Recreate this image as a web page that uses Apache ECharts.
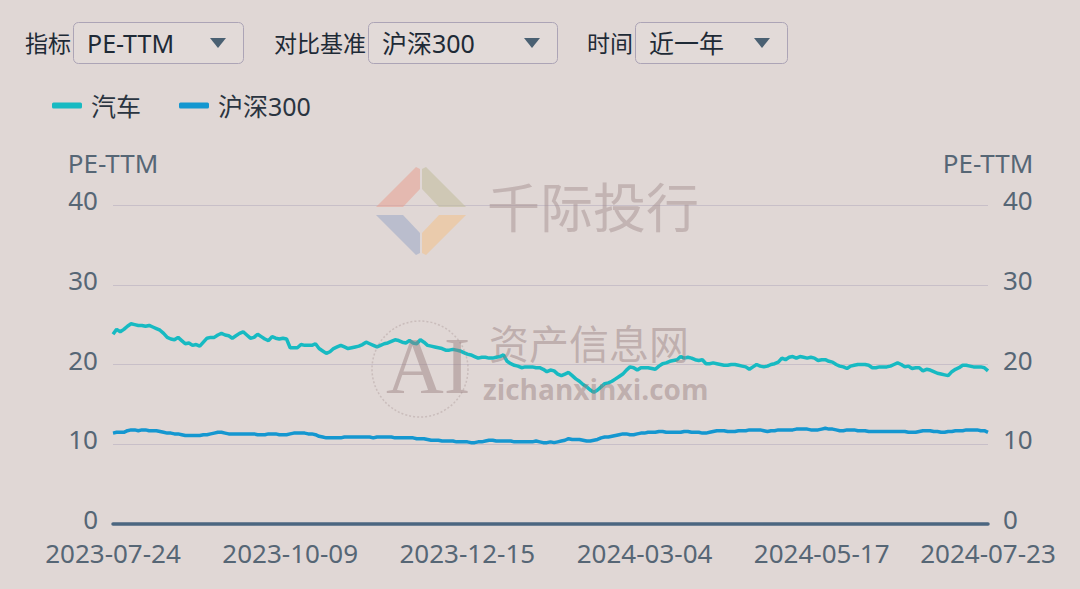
<!DOCTYPE html>
<html>
<head>
<meta charset="utf-8">
<script src="https://cdn.jsdelivr.net/npm/echarts@6/dist/echarts.min.js"></script>
<style>
html,body{margin:0;padding:0;background:#e0d7d5;}
#chart{width:1080px;height:589px;}
</style>
</head>
<body>
<div id="chart"></div>
<script>
var dates = [
"2023-07-24","2023-07-25","2023-07-26","2023-07-27","2023-07-28","2023-07-31",
"2023-08-01","2023-08-02","2023-08-03","2023-08-04","2023-08-07","2023-08-08","2023-08-09","2023-08-10","2023-08-11","2023-08-14","2023-08-15","2023-08-16","2023-08-17","2023-08-18","2023-08-21","2023-08-22","2023-08-23","2023-08-24","2023-08-25","2023-08-28","2023-08-29","2023-08-30","2023-08-31",
"2023-09-01","2023-09-04","2023-09-05","2023-09-06","2023-09-07","2023-09-08","2023-09-11","2023-09-12","2023-09-13","2023-09-14","2023-09-15","2023-09-18","2023-09-19","2023-09-20","2023-09-21","2023-09-22","2023-09-25","2023-09-26","2023-09-27","2023-09-28",
"2023-10-09","2023-10-10","2023-10-11","2023-10-12","2023-10-13","2023-10-16","2023-10-17","2023-10-18","2023-10-19","2023-10-20","2023-10-23","2023-10-24","2023-10-25","2023-10-26","2023-10-27","2023-10-30","2023-10-31",
"2023-11-01","2023-11-02","2023-11-03","2023-11-06","2023-11-07","2023-11-08","2023-11-09","2023-11-10","2023-11-13","2023-11-14","2023-11-15","2023-11-16","2023-11-17","2023-11-20","2023-11-21","2023-11-22","2023-11-23","2023-11-24","2023-11-27","2023-11-28","2023-11-29","2023-11-30",
"2023-12-01","2023-12-04","2023-12-05","2023-12-06","2023-12-07","2023-12-08","2023-12-11","2023-12-12","2023-12-13","2023-12-14","2023-12-15","2023-12-18","2023-12-19","2023-12-20","2023-12-21","2023-12-22","2023-12-25","2023-12-26","2023-12-27","2023-12-28","2023-12-29",
"2024-01-02","2024-01-03","2024-01-04","2024-01-05","2024-01-08","2024-01-09","2024-01-10","2024-01-11","2024-01-12","2024-01-15","2024-01-16","2024-01-17","2024-01-18","2024-01-19","2024-01-22","2024-01-23","2024-01-24","2024-01-25","2024-01-26","2024-01-29","2024-01-30","2024-01-31",
"2024-02-01","2024-02-02","2024-02-05","2024-02-06","2024-02-07","2024-02-08","2024-02-19","2024-02-20","2024-02-21","2024-02-22","2024-02-23","2024-02-26","2024-02-27","2024-02-28","2024-02-29",
"2024-03-01","2024-03-04","2024-03-05","2024-03-06","2024-03-07","2024-03-08","2024-03-11","2024-03-12","2024-03-13","2024-03-14","2024-03-15","2024-03-18","2024-03-19","2024-03-20","2024-03-21","2024-03-22","2024-03-25","2024-03-26","2024-03-27","2024-03-28","2024-03-29",
"2024-04-01","2024-04-02","2024-04-03","2024-04-08","2024-04-09","2024-04-10","2024-04-11","2024-04-12","2024-04-15","2024-04-16","2024-04-17","2024-04-18","2024-04-19","2024-04-22","2024-04-23","2024-04-24","2024-04-25","2024-04-26","2024-04-29","2024-04-30",
"2024-05-06","2024-05-07","2024-05-08","2024-05-09","2024-05-10","2024-05-13","2024-05-14","2024-05-15","2024-05-16","2024-05-17","2024-05-20","2024-05-21","2024-05-22","2024-05-23","2024-05-24","2024-05-27","2024-05-28","2024-05-29","2024-05-30","2024-05-31",
"2024-06-03","2024-06-04","2024-06-05","2024-06-06","2024-06-07","2024-06-11","2024-06-12","2024-06-13","2024-06-14","2024-06-17","2024-06-18","2024-06-19","2024-06-20","2024-06-21","2024-06-24","2024-06-25","2024-06-26","2024-06-27","2024-06-28",
"2024-07-01","2024-07-02","2024-07-03","2024-07-04","2024-07-05","2024-07-08","2024-07-09","2024-07-10","2024-07-11","2024-07-12","2024-07-15","2024-07-16","2024-07-17","2024-07-18","2024-07-19","2024-07-22","2024-07-23"
];

var autoPE = [
23.8,24.4,24.1,24.4,24.8,25.1,25.0,24.9,24.9,24.8,
24.9,24.7,24.5,24.3,23.9,23.4,23.2,23.1,23.4,23.0,
22.6,22.7,22.4,22.5,22.3,22.8,23.3,23.4,23.4,23.7,
23.9,23.7,23.6,23.3,23.6,23.9,24.1,23.7,23.3,23.4,
23.8,23.5,23.2,23.0,23.5,23.3,23.2,23.3,23.2,22.1,
22.1,22.1,22.5,22.4,22.4,22.4,22.6,22.0,21.7,21.4,
21.6,22.0,22.2,22.4,22.2,22.0,22.1,22.2,22.3,22.5,
22.8,22.6,22.4,22.2,22.4,22.6,22.7,22.9,23.1,23.0,
22.8,22.7,23.0,22.7,22.6,23.1,22.8,22.4,22.3,22.2,
22.1,22.0,21.8,21.8,21.9,21.8,21.7,21.5,21.3,21.2,
21.0,20.8,20.9,20.9,20.8,20.8,20.9,21.0,21.2,20.4,
20.1,19.9,19.8,19.6,19.7,19.7,19.7,19.6,19.6,19.4,
19.1,19.3,19.2,18.8,18.6,18.8,19.0,18.6,18.2,17.9,
17.5,17.2,16.8,16.5,16.8,17.2,17.6,17.7,17.9,18.2,
18.5,18.8,19.3,19.7,19.6,19.3,19.6,19.6,19.6,19.5,
19.4,19.8,20.1,20.2,20.4,20.5,20.6,21.0,20.8,20.9,
20.8,20.6,20.5,20.6,20.1,20.1,20.2,20.1,20.0,19.9,
19.9,20.0,20.0,19.9,19.8,19.7,19.4,19.7,20.0,19.8,
19.7,19.8,20.0,20.1,20.3,20.8,20.6,20.9,21.0,20.8,
21.0,20.9,20.8,20.9,20.8,20.5,20.6,20.6,20.4,20.3,
20.0,19.8,19.7,19.5,19.8,19.9,20.0,20.0,20.0,19.9,
19.6,19.6,19.7,19.7,19.7,19.8,20.0,20.2,20.0,19.7,
19.8,19.5,19.6,19.6,19.2,19.4,19.3,19.1,18.9,18.8,
18.7,18.6,19.1,19.4,19.6,19.9,19.9,19.8,19.7,19.7,
19.7,19.6,19.2
];

var hs300PE = [
11.4,11.5,11.5,11.5,11.7,11.8,11.8,11.7,11.8,11.8,
11.7,11.7,11.7,11.6,11.5,11.4,11.4,11.3,11.3,11.2,
11.1,11.1,11.1,11.1,11.1,11.2,11.2,11.3,11.4,11.5,
11.5,11.4,11.3,11.3,11.3,11.3,11.3,11.3,11.3,11.3,
11.2,11.2,11.2,11.3,11.3,11.3,11.2,11.2,11.2,11.3,
11.4,11.4,11.4,11.4,11.3,11.3,11.2,11.0,10.9,10.8,
10.8,10.8,10.8,10.8,10.9,10.9,10.9,10.9,10.9,10.9,
10.9,10.9,10.8,10.9,10.9,10.9,10.9,10.9,10.8,10.8,
10.8,10.8,10.8,10.8,10.7,10.7,10.7,10.6,10.5,10.5,
10.5,10.4,10.4,10.4,10.4,10.3,10.3,10.3,10.3,10.2,
10.2,10.3,10.3,10.4,10.5,10.5,10.4,10.4,10.4,10.4,
10.4,10.3,10.3,10.3,10.3,10.3,10.3,10.4,10.3,10.2,
10.2,10.3,10.2,10.3,10.4,10.5,10.7,10.6,10.6,10.6,
10.5,10.4,10.4,10.5,10.6,10.8,10.9,10.9,11.0,11.1,
11.2,11.3,11.3,11.2,11.2,11.3,11.4,11.4,11.5,11.5,
11.5,11.6,11.6,11.5,11.5,11.5,11.5,11.5,11.6,11.6,
11.5,11.5,11.5,11.4,11.4,11.5,11.6,11.7,11.7,11.7,
11.6,11.6,11.6,11.7,11.7,11.7,11.8,11.8,11.8,11.8,
11.7,11.6,11.7,11.7,11.8,11.8,11.8,11.8,11.8,11.9,
11.9,11.9,11.9,11.8,11.8,11.8,11.9,12.0,11.9,11.9,
11.8,11.7,11.7,11.8,11.8,11.8,11.7,11.7,11.7,11.6,
11.6,11.6,11.6,11.6,11.6,11.6,11.6,11.6,11.6,11.6,
11.5,11.5,11.5,11.6,11.7,11.7,11.7,11.6,11.6,11.5,
11.5,11.6,11.6,11.7,11.7,11.7,11.8,11.8,11.8,11.8,
11.7,11.7,11.5
];

var seriesNames = ["汽车", "沪深300"];
var axisName = "PE-TTM";
var yTicks = [0, 40, 10];

var CJK = "'Noto Sans CJK SC',sans-serif";
var LATIN = "'Noto Sans','Noto Sans CJK SC',sans-serif";
var chart = echarts.init(document.getElementById('chart'), null, {renderer: 'svg'});

function dropdown(lbl, lblX, boxX, boxW, val) {
  return [
    {type:'text', left: lblX, top: 30, z: 10, style:{text: lbl, font: '23px ' + CJK, fill:'#1e2a36'}},
    {type:'rect', left: boxX, top: 22, z: 9, shape:{width: boxW, height: 41, r: 5}, style:{fill:'#e2dad8', stroke:'#aca4b6', lineWidth: 1}},
    {type:'text', left: boxX + 14, top: 30, z: 10, style:{text: val, font: '25px ' + LATIN, fill:'#1e2a36'}},
    {type:'polygon', z: 10, shape:{points:[[boxX+boxW-33,38],[boxX+boxW-17,38],[boxX+boxW-25,48]]}, style:{fill:'#4a6072'}}
  ];
}

var graphics = [].concat(
  dropdown('指标', 25, 73, 170, 'PE-TTM'),
  dropdown('对比基准', 274, 368, 189, '沪深300'),
  dropdown('时间', 587, 635, 152, '近一年'),
  [
    {type:'polygon', z: 20, silent: true, shape:{points:[[376,207],[416,167],[420,169],[420,189],[403,207]]}, style:{fill:'rgba(232,160,145,0.55)'}},
    {type:'polygon', z: 20, silent: true, shape:{points:[[466,207],[426,167],[422,169],[422,189],[439,207]]}, style:{fill:'rgba(195,190,160,0.6)'}},
    {type:'polygon', z: 20, silent: true, shape:{points:[[376,215],[416,255],[420,253],[420,233],[403,215]]}, style:{fill:'rgba(160,172,200,0.6)'}},
    {type:'polygon', z: 20, silent: true, shape:{points:[[466,215],[426,255],[422,253],[422,233],[439,215]]}, style:{fill:'rgba(240,195,145,0.6)'}},
    {type:'text', z: 20, silent: true, left: 487, top: 178, style:{text:'千际投行', font:'53px ' + CJK, fill:'rgba(165,145,145,0.5)'}},
    {type:'circle', z: 20, silent: true, shape:{cx: 420, cy: 369, r: 48}, style:{fill:'none', stroke:'rgba(160,140,140,0.35)', lineWidth: 1.5, lineDash:[2,2]}},
    {type:'text', z: 20, silent: true, left: 386, top: 326, style:{text:'AI', font:'80px "Liberation Serif","DejaVu Serif",serif', fill:'rgba(150,125,125,0.45)'}},
    {type:'text', z: 20, silent: true, left: 489, top: 322, style:{text:'资产信息网', font:'40px ' + CJK, fill:'rgba(150,125,125,0.45)'}},
    {type:'text', z: 20, silent: true, left: 483, top: 375, style:{text:'zichanxinxi.com', font:'bold 28px "Open Sans",' + CJK, fill:'rgba(150,125,125,0.45)'}}
  ]
);

var labelColor = '#566675';

chart.setOption({
  backgroundColor: '#e0d7d5',
  animation: false,
  textStyle: {fontFamily: LATIN},
  graphic: graphics,
  legend: {
    left: 47, top: 88,
    icon: 'roundRect',
    itemWidth: 30, itemHeight: 6, itemGap: 38,
    textStyle: {fontSize: 25, color: '#2a3440', fontFamily: LATIN, padding: [0, 0, 0, 4]},
    data: seriesNames
  },
  grid: {left: 113, right: 92, top: 205, bottom: 65, containLabel: false},
  xAxis: {
    type: 'category',
    boundaryGap: false,
    data: dates,
    axisLine: {lineStyle: {color: '#4b6680', width: 3.5, cap: 'round'}},
    axisTick: {show: false},
    axisLabel: {
      interval: function (i) { return i % 49 === 0 || i === dates.length - 1; },
      color: labelColor, fontSize: 26, margin: 16, fontFamily: LATIN
    },
    splitLine: {show: false}
  },
  yAxis: [
    {
      type: 'value', min: yTicks[0], max: yTicks[1], interval: yTicks[2],
      name: axisName, nameLocation: 'end', nameGap: 29,
      nameTextStyle: {color: labelColor, fontSize: 26, fontFamily: LATIN},
      axisLine: {show: false}, axisTick: {show: false},
      axisLabel: {color: labelColor, fontSize: 26, margin: 15, fontFamily: LATIN, verticalAlign: 'bottom', lineHeight: 10},
      splitLine: {lineStyle: {color: '#c8bfc8', width: 1}}
    },
    {
      type: 'value', min: yTicks[0], max: yTicks[1], interval: yTicks[2], position: 'right',
      name: axisName, nameLocation: 'end', nameGap: 29,
      nameTextStyle: {color: labelColor, fontSize: 26, fontFamily: LATIN},
      axisLine: {show: false}, axisTick: {show: false},
      axisLabel: {color: labelColor, fontSize: 26, margin: 15, fontFamily: LATIN, verticalAlign: 'bottom', lineHeight: 10},
      splitLine: {show: false}
    }
  ],
  series: [
    {
      name: seriesNames[0], type: 'line', yAxisIndex: 0, data: autoPE,
      showSymbol: false, symbol: 'none',
      itemStyle: {color: '#17bac2'},
      lineStyle: {width: 3.5, color: '#17bac2'}
    },
    {
      name: seriesNames[1], type: 'line', yAxisIndex: 1, data: hs300PE,
      showSymbol: false, symbol: 'none',
      itemStyle: {color: '#1497d0'},
      lineStyle: {width: 3.5, color: '#1497d0'}
    }
  ]
});
</script>
</body>
</html>
